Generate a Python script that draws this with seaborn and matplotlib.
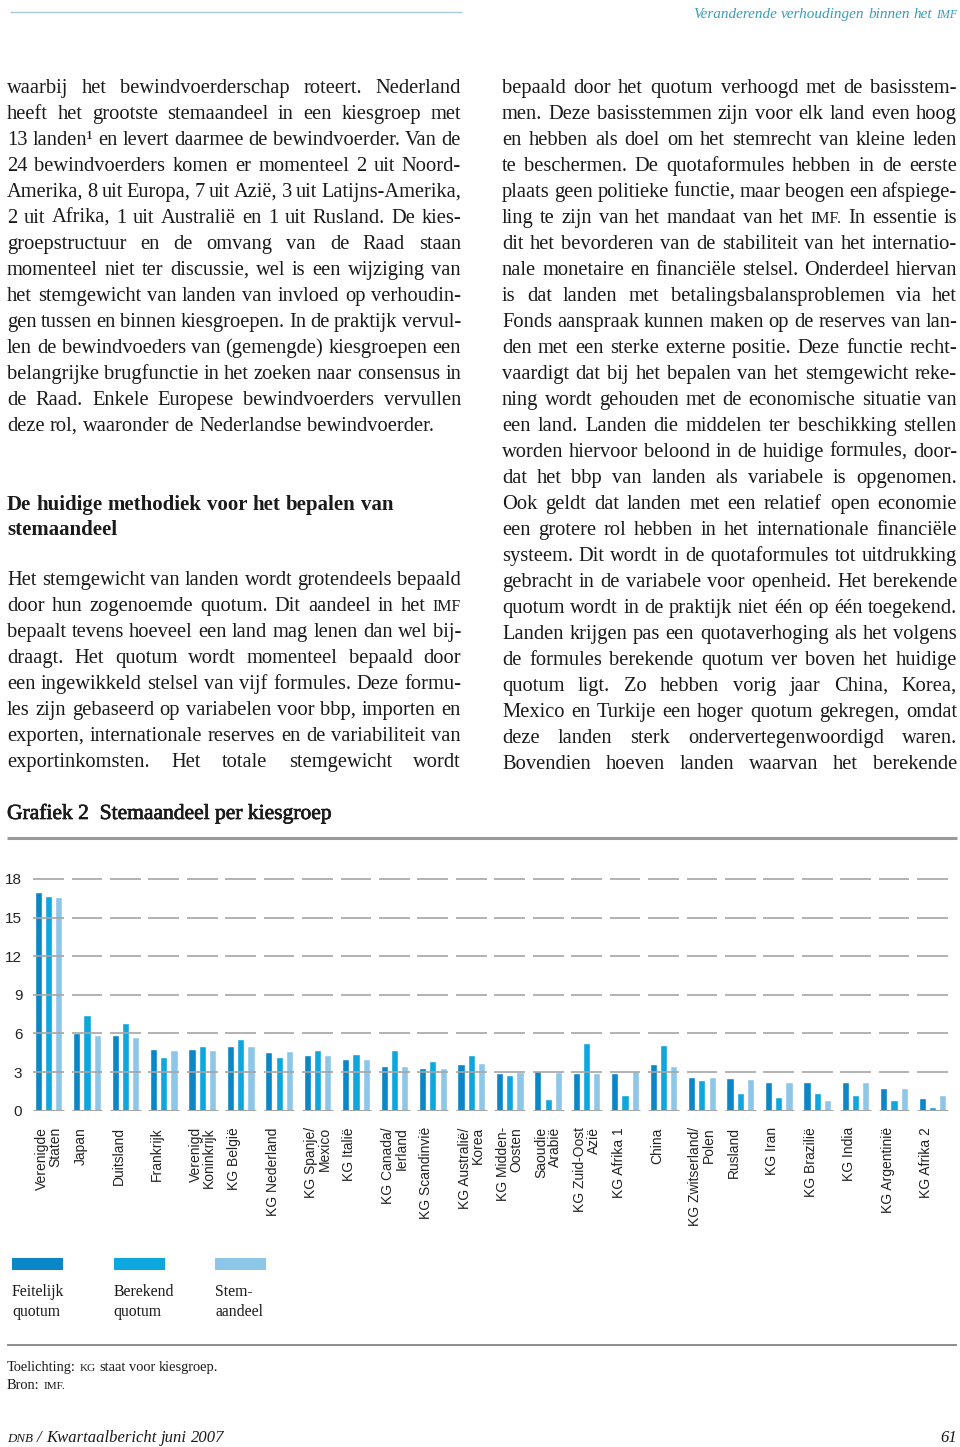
import matplotlib
matplotlib.use("Agg")
import matplotlib.pyplot as plt
import matplotlib.patheffects as pe
import seaborn as sns
import pandas as pd
from matplotlib.patches import Rectangle
from matplotlib.lines import Line2D
from matplotlib.transforms import ScaledTranslation

# ---------------- data ----------------
categories = [
    "Verenigde\nStaten", "Japan", "Duitsland", "Frankrijk", "Verenigd\nKoninkrijk",
    "KG België", "KG Nederland", "KG Spanje/\nMexico", "KG Italië", "KG Canada/\nIerland",
    "KG Scandinvië", "KG Australië/\nKorea", "KG Midden-\nOosten", "Saoudie\nArabië",
    "KG Zuid-Oost\nAzië", "KG Afrika 1", "China", "KG Zwitserland/\nPolen", "Rusland",
    "KG Iran", "KG Brazilië", "KG India", "KG Argentinië", "KG Afrika 2",
]
feitelijk = [17.0, 6.0, 5.9, 4.8, 4.8, 5.0, 4.55, 4.3, 4.0, 3.45, 3.3, 3.65,
             2.95, 3.05, 2.9, 2.95, 3.6, 2.6, 2.55, 2.25, 2.2, 2.2, 1.75, 0.95]
berekend = [16.7, 7.4, 6.8, 4.2, 5.05, 5.6, 4.2, 4.75, 4.4, 4.75, 3.85, 4.35,
            2.75, 0.9, 5.25, 1.2, 5.1, 2.4, 1.35, 1.1, 1.35, 1.2, 0.8, 0.3]
stemaandeel = [16.6, 5.9, 5.75, 4.7, 4.7, 5.0, 4.6, 4.3, 4.0, 3.5, 3.3, 3.7,
               3.0, 3.0, 2.95, 3.1, 3.5, 2.65, 2.5, 2.25, 0.85, 2.2, 1.8, 1.2]
series_names = ["Feitelijk\nquotum", "Berekend\nquotum", "Stem-\naandeel"]
colors = ["#0b86c6", "#0ea7dd", "#8ec6e8"]
yticks = [0, 3, 6, 9, 12, 15, 18]

header_text = ["Veranderende", "verhoudingen", "binnen", "het", "^IMF"]

left_par1 = [
    "waarbij het bewindvoerderschap roteert. Nederland",
    "heeft het grootste stemaandeel in een kiesgroep met",
    "13 landen¹ en levert daarmee de bewindvoerder. Van de",
    "24 bewindvoerders komen er momenteel 2 uit Noord-",
    "Amerika, 8 uit Europa, 7 uit Azië, 3 uit Latijns-Amerika,",
    "2 uit Afrika, 1 uit Australië en 1 uit Rusland. De kies-",
    "groepstructuur en de omvang van de Raad staan",
    "momenteel niet ter discussie, wel is een wijziging van",
    "het stemgewicht van landen van invloed op verhoudin-",
    "gen tussen en binnen kiesgroepen. In de praktijk vervul-",
    "len de bewindvoeders van (gemengde) kiesgroepen een",
    "belangrijke brugfunctie in het zoeken naar consensus in",
    "de Raad. Enkele Europese bewindvoerders vervullen",
    "deze rol, waaronder de Nederlandse bewindvoerder.",
]
heading = ["De huidige methodiek voor het bepalen van", "stemaandeel"]
left_par2 = [
    "Het stemgewicht van landen wordt grotendeels bepaald",
    "door hun zogenoemde quotum. Dit aandeel in het ^IMF",
    "bepaalt tevens hoeveel een land mag lenen dan wel bij-",
    "draagt. Het quotum wordt momenteel bepaald door",
    "een ingewikkeld stelsel van vijf formules. Deze formu-",
    "les zijn gebaseerd op variabelen voor bbp, importen en",
    "exporten, internationale reserves en de variabiliteit van",
    "exportinkomsten. Het totale stemgewicht wordt",
]
right_col = [
    "bepaald door het quotum verhoogd met de basisstem-",
    "men. Deze basisstemmen zijn voor elk land even hoog",
    "en hebben als doel om het stemrecht van kleine leden",
    "te beschermen. De quotaformules hebben in de eerste",
    "plaats geen politieke functie, maar beogen een afspiege-",
    "ling te zijn van het mandaat van het ^IMF. In essentie is",
    "dit het bevorderen van de stabiliteit van het internatio-",
    "nale monetaire en financiële stelsel. Onderdeel hiervan",
    "is dat landen met betalingsbalansproblemen via het",
    "Fonds aanspraak kunnen maken op de reserves van lan-",
    "den met een sterke externe positie. Deze functie recht-",
    "vaardigt dat bij het bepalen van het stemgewicht reke-",
    "ning wordt gehouden met de economische situatie van",
    "een land. Landen die middelen ter beschikking stellen",
    "worden hiervoor beloond in de huidige formules, door-",
    "dat het bbp van landen als variabele is opgenomen.",
    "Ook geldt dat landen met een relatief open economie",
    "een grotere rol hebben in het internationale financiële",
    "systeem. Dit wordt in de quotaformules tot uitdrukking",
    "gebracht in de variabele voor openheid. Het berekende",
    "quotum wordt in de praktijk niet één op één toegekend.",
    "Landen krijgen pas een quotaverhoging als het volgens",
    "de formules berekende quotum ver boven het huidige",
    "quotum ligt. Zo hebben vorig jaar China, Korea,",
    "Mexico en Turkije een hoger quotum gekregen, omdat",
    "deze landen sterk ondervertegenwoordigd waren.",
    "Bovendien hoeven landen waarvan het berekende",
]
chart_title = "Grafiek 2  Stemaandeel per kiesgroep"
note_lines = [["Toelichting:", "^KG", "staat", "voor", "kiesgroep."], ["Bron:", "^IMF."]]
footer_left = ["^DNB", "/", "Kwartaalbericht", "juni", "2007"]
footer_right = "61"

# ---------------- setup ----------------
sns.set_theme(style="white")
plt.rcParams["font.family"] = ["Liberation Serif", "DejaVu Serif"]
W, H = 960, 1447
fig = plt.figure(figsize=(W / 100, H / 100), dpi=100)
renderer = fig.canvas.get_renderer()


def fx(px):
    return px / W


def fy(py):
    return 1 - py / H


def make_texts(words, size, color, **kw):
    ts = []
    for w in words:
        if w.startswith("^"):
            t = fig.text(0, 0, w[1:], fontsize=size * 0.78, va="baseline", color=color, **kw)
        else:
            t = fig.text(0, 0, w, fontsize=size, va="baseline", color=color, **kw)
        ts.append(t)
    return ts


def draw_words(words, x0, x1, ybase, size, align="left", color="#1a1a1a", **kw):
    ts = make_texts(words, size, color, **kw)
    ws = [t.get_window_extent(renderer).width for t in ts]
    total = sum(ws)
    em = size * 100 / 72
    if align == "justify" and len(ws) > 1:
        mingap = 0.2 * em
        need = total + mingap * (len(ws) - 1)
        if need > (x1 - x0):
            # shrink this line slightly so that words keep a minimal gap
            f = (x1 - x0 - mingap * (len(ws) - 1)) / total
            for t in ts:
                t.set_fontsize(t.get_fontsize() * f)
            ws = [t.get_window_extent(renderer).width for t in ts]
            total = sum(ws)
        gap = (x1 - x0 - total) / (len(ws) - 1)
    else:
        gap = 0.25 * em
    x = x1 - total - gap * (len(ws) - 1) if align == "right" else x0
    for t, w in zip(ts, ws):
        t.set_position((fx(x), fy(ybase)))
        x += w + gap


def hline(x0, x1, y, color, lw):
    fig.add_artist(Line2D([fx(x0), fx(x1)], [fy(y), fy(y)], transform=fig.transFigure,
                          color=color, lw=lw, solid_capstyle="butt"))


BODY = 14.8
# header
hline(10, 462, 12, "#a9cbd8", 1.0)
draw_words(header_text, 600, 957, 18, 11, align="right", color="#3b9cb6", style="italic")

# left column
for i, line in enumerate(left_par1):
    al = "left" if i == len(left_par1) - 1 else "justify"
    draw_words(line.split(), 7, 461, 93 + 26 * i, BODY, align=al)
for i, line in enumerate(heading):
    draw_words(line.split(), 7, 461, 510 + 25.5 * i, 15, align="left", fontweight="bold")
for i, line in enumerate(left_par2):
    draw_words(line.split(), 7, 461, 585 + 26 * i, BODY, align="justify")
# right column
for i, line in enumerate(right_col):
    draw_words(line.split(), 502, 957, 93 + 26 * i, BODY, align="justify")

# chart title
fig.text(fx(7), fy(819), chart_title, fontsize=15.5, va="baseline", color="#1a1a1a",
         path_effects=[pe.withStroke(linewidth=0.5, foreground="#1a1a1a")])
hline(7, 957, 838, "#9a9a9a", 2.2)

# ---------------- chart ----------------
n = len(categories)
df = pd.DataFrame({
    "cat": categories * 3,
    "serie": [s for s in series_names for _ in range(n)],
    "val": feitelijk + berekend + stemaandeel,
})
ax_left, ax_right = 29.3, 951.7
y0_px, ymax = 1110.7, 18.2
unit = (1110.7 - 879.0) / 18
ax_top = y0_px - ymax * unit
ax = fig.add_axes([fx(ax_left), fy(y0_px), (ax_right - ax_left) / W, (y0_px - ax_top) / H])
sns.barplot(data=df, x="cat", y="val", hue="serie", palette=colors, saturation=1,
            width=0.8, gap=0.3, ax=ax, legend=False, zorder=2)
ax.set_xlim(-0.5, n - 0.5)
ax.set_ylim(0, ymax)
for s in ax.spines.values():
    s.set_visible(False)
ax.grid(False)
ax.set_xlabel("")
ax.set_ylabel("")
ax.set_yticks(yticks)
ax.set_yticklabels([str(v) for v in yticks], fontsize=11, family="Liberation Sans", color="#222222")
ax.tick_params(axis="y", length=0, pad=5)
ax.set_xticks(range(n))
ax.set_xticklabels([])
ax.tick_params(axis="x", length=0)

for v in yticks:
    ax.hlines([v] * n, [i - 0.40 for i in range(n)], [i + 0.40 for i in range(n)],
              colors="#a6a6a6", lw=2.2 if v == 0 else 1.2, zorder=3)

off = ax.get_xaxis_transform() + ScaledTranslation(-0.135, -0.165, fig.dpi_scale_trans)
for i, lab in enumerate(categories):
    ax.text(i, 0, lab, transform=off, rotation=90, ha="left", va="top",
            multialignment="right", fontsize=10, family="Liberation Sans",
            color="#222222", linespacing=0.95)

# legend
for k, (name, c) in enumerate(zip(series_names, colors)):
    x0 = 12 + 101.5 * k
    fig.add_artist(Rectangle((fx(x0), fy(1270)), 51 / W, 12 / H, transform=fig.transFigure,
                             facecolor=c, edgecolor="none"))
    for j, part in enumerate(name.split("\n")):
        fig.text(fx(x0), fy(1296 + 20 * j), part, fontsize=11.3, va="baseline", color="#1a1a1a")

hline(7, 957, 1345, "#7a7a7a", 1.2)
for j, words in enumerate(note_lines):
    draw_words(words, 7, 957, 1371 + 18 * j, 10.4, align="left")

# footer
draw_words(footer_left, 7, 957, 1442, 12, align="left", style="italic")
fig.text(fx(957), fy(1442), footer_right, fontsize=12, style="italic", ha="right",
         va="baseline", color="#1a1a1a")

fig.savefig("out.png", dpi=100, facecolor="white")
